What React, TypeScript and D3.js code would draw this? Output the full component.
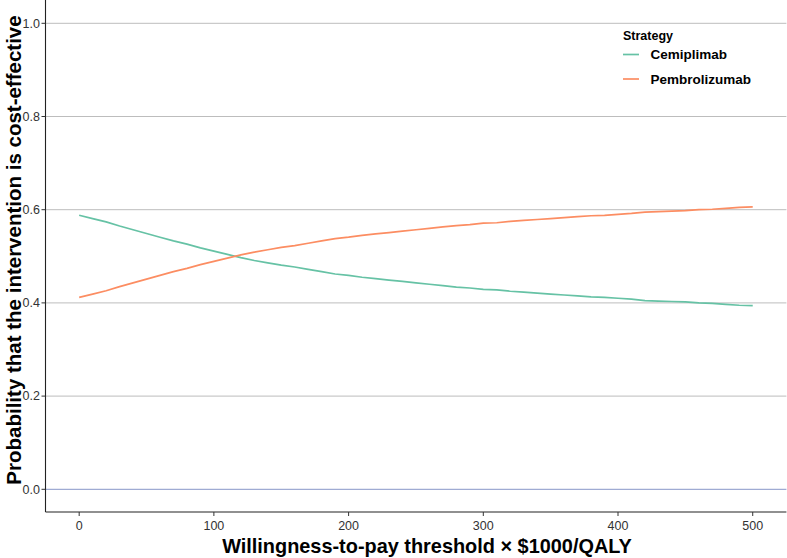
import React from "react";
import * as d3 from "d3";

const wtp = [0,10,20,30,40,50,60,70,80,90,100,110,120,130,140,150,160,170,180,190,200,210,220,230,240,250,260,270,280,290,300,310,320,330,340,350,360,370,380,390,400,410,420,430,440,450,460,470,480,490,500];
const cemiplimab = [0.588,0.581,0.574,0.565,0.557,0.549,0.541,0.533,0.526,0.518,0.511,0.504,0.497,0.491,0.486,0.481,0.477,0.472,0.467,0.462,0.459,0.455,0.452,0.449,0.446,0.443,0.440,0.437,0.434,0.432,0.429,0.428,0.425,0.423,0.421,0.419,0.417,0.415,0.413,0.412,0.410,0.408,0.405,0.404,0.403,0.402,0.400,0.399,0.397,0.395,0.394];
const pembrolizumab = [0.412,0.419,0.426,0.435,0.443,0.451,0.459,0.467,0.474,0.482,0.489,0.496,0.503,0.509,0.514,0.519,0.523,0.528,0.533,0.538,0.541,0.545,0.548,0.551,0.554,0.557,0.560,0.563,0.566,0.568,0.571,0.572,0.575,0.577,0.579,0.581,0.583,0.585,0.587,0.588,0.590,0.592,0.595,0.596,0.597,0.598,0.600,0.601,0.603,0.605,0.606];
const seriesNames = ["Cemiplimab", "Pembrolizumab"];
const seriesColors = ["#66C2A5", "#FC8D62"];
const xTicks = [0, 100, 200, 300, 400, 500];
const yTicks = [0, 0.2, 0.4, 0.6, 0.8, 1.0];

const W = 787, H = 558;
const left = 45.5, right = 786.4, top = 0, bottom = 512;

export default function App() {
  const x = d3.scaleLinear().domain([-25, 525]).range([left, right]);
  const y = d3.scaleLinear().domain([-0.0487, 1.05]).range([bottom, top]);
  const series = [cemiplimab, pembrolizumab];
  const line = d3.line<number>().x((_, i) => x(wtp[i])).y((d) => y(d));
  const font = "Liberation Sans, Arial, sans-serif";
  return (
    <svg width={W} height={H} style={{ position: "absolute", left: 0, top: 0, background: "#fff" }} fontFamily={font}>
      <rect x={0} y={0} width={W} height={H} fill="#fff" />
      {yTicks.filter((t) => t > 0).map((t) => (
        <line key={t} x1={left} x2={right} y1={y(t)} y2={y(t)} stroke="#bdbdbd" strokeWidth={1} />
      ))}
      <line x1={left} x2={right} y1={y(0)} y2={y(0)} stroke="#8796c8" strokeWidth={1} />
      {series.map((s, i) => (
        <path key={i} d={line(s) || ""} fill="none" stroke={seriesColors[i]} strokeWidth={1.7} />
      ))}
      <line x1={left} x2={left} y1={top} y2={bottom} stroke="#222" strokeWidth={1.1} />
      <line x1={left} x2={right} y1={bottom} y2={bottom} stroke="#222" strokeWidth={1.1} />
      {yTicks.map((t) => (
        <g key={t}>
          <line x1={left - 4} x2={left} y1={y(t)} y2={y(t)} stroke="#333" />
          <text x={40} y={y(t)} dy="0.35em" textAnchor="end" fontSize={12.5} fill="#333">{t.toFixed(1)}</text>
        </g>
      ))}
      {xTicks.map((t) => (
        <g key={t}>
          <line x1={x(t)} x2={x(t)} y1={bottom} y2={bottom + 4} stroke="#333" />
          <text x={x(t)} y={530} textAnchor="middle" fontSize={12.5} fill="#333">{t}</text>
        </g>
      ))}
      <text x={427} y={553} textAnchor="middle" fontSize={19.9} fontWeight="bold" fill="#000">Willingness-to-pay threshold × $1000/QALY</text>
      <text transform={`translate(21,250) rotate(-90)`} textAnchor="middle" fontSize={20.5} fontWeight="bold" fill="#000">Probability that the intervention is cost-effective</text>
      <text x={623} y={39.5} fontSize={12.5} fontWeight="bold" fill="#000">Strategy</text>
      {seriesNames.map((n, i) => (
        <g key={n}>
          <line x1={623} x2={639} y1={54.5 + i * 24.5} y2={54.5 + i * 24.5} stroke={seriesColors[i]} strokeWidth={1.7} />
          <text x={650.5} y={59 + i * 24.5} fontSize={13.5} fontWeight="bold" fill="#000">{n}</text>
        </g>
      ))}
    </svg>
  );
}
